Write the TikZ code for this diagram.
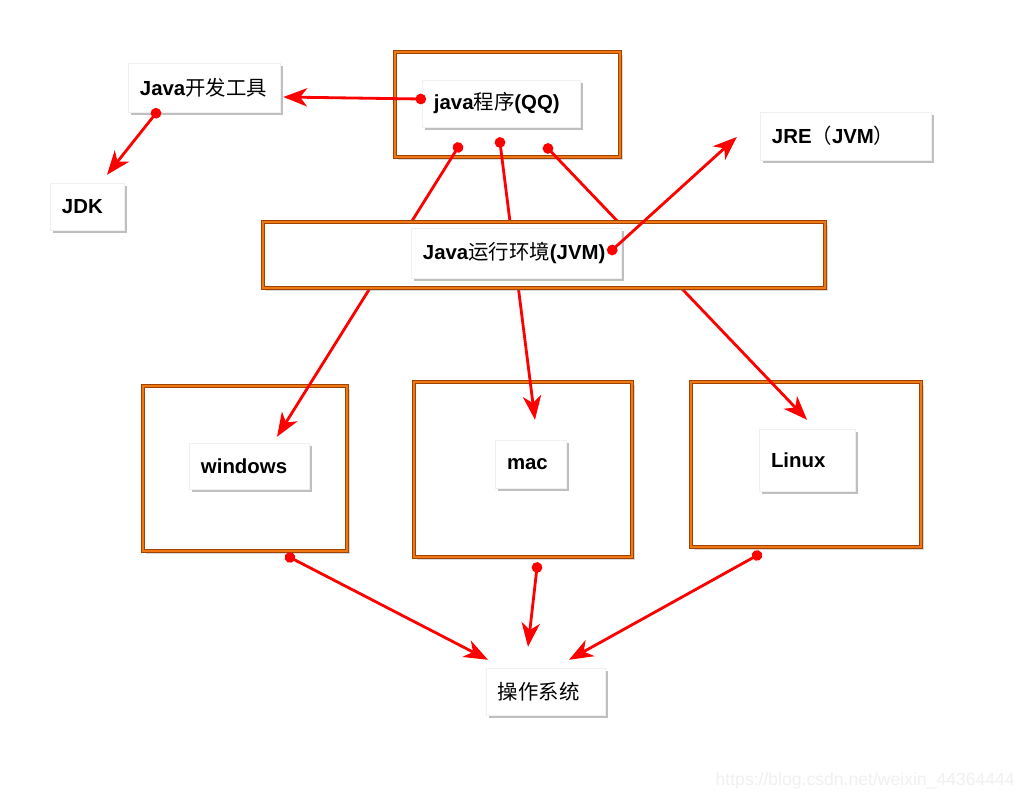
\documentclass[tikz,border=0pt]{standalone}
\usepackage{fontspec}
\setmainfont{Liberation Sans}
\newfontfamily\cjk{Noto Sans CJK SC}
\newcommand{\zhtxt}[1]{{\cjk\mdseries #1}}
\usetikzlibrary{shadows,calc,arrows.meta}

\definecolor{frameedge}{RGB}{160,66,0}
\definecolor{framefill}{RGB}{240,120,20}
\definecolor{arrowred}{RGB}{255,0,0}

\begin{document}
\begin{tikzpicture}[x=0.025cm,y=-0.025cm,
    lbl/.style={draw=black!6, fill=white, line width=0.3pt, inner xsep=0.3cm, inner ysep=0pt, align=left,
        font=\fontsize{14.5pt}{16pt}\selectfont\bfseries,
        drop shadow={shadow xshift=2.2pt,shadow yshift=-2.2pt,opacity=.5}},
    orangebox/.style={draw=frameedge, double=framefill, double distance=1.3pt, line width=0.6pt,
        fill=white, inner sep=0pt,
        drop shadow={shadow xshift=2pt,shadow yshift=-2pt,opacity=.3}},
    redarrow/.style={draw=arrowred, line width=2pt, shorten <=-3.75pt,
        {Circle[length=7.5pt]}-{Stealth[length=17pt,width=13pt,inset=5pt]}}]

    \fill[white] (0,0) rectangle (1024,800);
    \useasboundingbox (0,0) rectangle (1024,800);

    % Frames
    \node[orangebox, minimum width=5.625cm, minimum height=2.625cm] (qqF) at (507.5,104.5) {};
    \node[orangebox, minimum width=5.1cm, minimum height=4.125cm] (winF) at (245,468.5) {};
    \node[orangebox, minimum width=5.45cm, minimum height=4.375cm] (macF) at (523,469.5) {};
    \node[orangebox, minimum width=5.75cm, minimum height=4.125cm] (linF) at (806,464.5) {};

    % Labels
    \node[lbl, text width=3.35cm, minimum height=1.175cm] (qq) at (501,103.5) {java\zhtxt{程序}(QQ)};
    \node[lbl, text width=3.2cm, minimum height=1.225cm] (dev) at (204,87.5) {Java\zhtxt{开发工具}};
    \node[lbl, text width=1.25cm, minimum height=1.175cm] (jdk) at (87,206.5) {JDK};
    \node[lbl, text width=3.675cm, minimum height=1.2cm] (jre) at (845.5,136) {JRE\zhtxt{（}JVM\zhtxt{）}};
    \node[lbl, text width=2.4cm, minimum height=1.15cm] (win) at (249,466) {windows};
    \node[lbl, text width=1.175cm, minimum height=1.2cm] (mac) at (530.5,464) {mac};
    \node[lbl, text width=1.8cm, minimum height=1.55cm] (lin) at (807,460) {Linux};
    \node[lbl, text width=2.375cm, minimum height=1.175cm] (os) at (545.5,691.5) {\zhtxt{操作系统}};

    % Program down to the systems
    \draw[redarrow] ($(qqF.south)+(-49.5,-10)$) -- ($(win.north)+(28,-6)$);
    \draw[redarrow] ($(qqF.south)+(-7.5,-15)$) -- ($(mac.north)+(4.5,-20)$);
    \draw[redarrow] ($(qqF.south)+(40.5,-9)$) -- ($(lin.north)+(0,-9)$);

    % Runtime band
    \node[orangebox, minimum width=14.05cm, minimum height=1.65cm] (band) at (544,255) {};
    \node[lbl, text width=4.65cm, minimum height=1.25cm] (jvm) at (516,253) {Java\zhtxt{运行环境}(JVM)};

    \draw[redarrow] ($(jvm.east)+(-9,-3)$) -- ($(jre.west)+(-23,1)$);
    \draw[redarrow] ($(qq.west)+(-1,-4.5)$) -- ($(dev.east)+(3,9.5)$);
    \draw[redarrow] ($(dev.south)+(-48,1)$) -- ($(jdk.north)+(20,-8)$);

    % Systems to OS
    \draw[redarrow] ($(winF.south)+(45,6)$) -- ($(os.north)+(-57.5,-8)$);
    \draw[redarrow] ($(macF.south)+(14,10)$) -- ($(os.north)+(-17.5,-21)$);
    \draw[redarrow] ($(linF.south)+(-49,8)$) -- ($(os.north)+(23.5,-8)$);

    \node[font=\fontsize{12.5pt}{14pt}\selectfont, text=black!6, anchor=east, inner sep=0pt] (wm) at (1015,781) {https://blog.csdn.net/weixin\_44364444};

\end{tikzpicture}
\end{document}
